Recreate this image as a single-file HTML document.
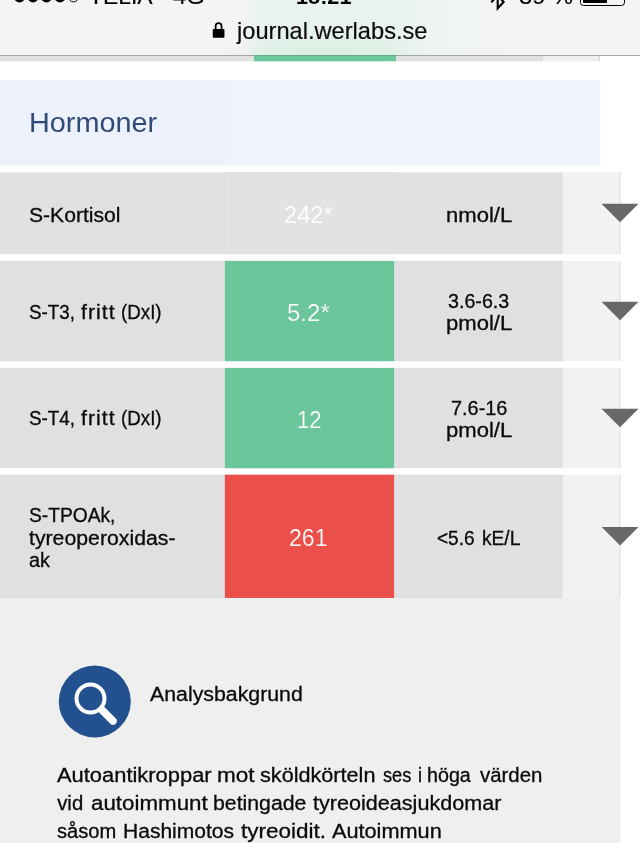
<!DOCTYPE html>
<html><head><meta charset="utf-8"><title>journal.werlabs.se</title>
<style>
html,body{margin:0;padding:0;background:#fff}
body{width:640px;height:843px;position:relative;overflow:hidden;font-family:"Liberation Sans",sans-serif}
.a{position:absolute;display:block}
#tx{position:absolute;left:0;top:0;width:640px;height:843px;will-change:transform}
.t{position:absolute;display:block;white-space:nowrap;line-height:1;transform-origin:0 0;-webkit-text-stroke:0.3px currentColor}
</style></head><body>
<!-- page content -->
<div class="a" style="left:0;top:56px;width:543px;height:5px;background:#e0e0e0"></div><div class="a" style="left:0;top:61px;width:543px;height:1px;background:#f5f5f5"></div>
<div class="a" style="left:543px;top:56px;width:57px;height:5px;background:#efefef;border-right:1px solid #d8d8d8;box-sizing:border-box"></div><div class="a" style="left:543px;top:61px;width:57px;height:1px;background:#fafafa"></div>
<div class="a" style="left:254px;top:56px;width:142px;height:5px;background:#6cc69b"></div><div class="a" style="left:254px;top:61px;width:142px;height:1px;background:#d3eee1"></div>
<div class="a" style="left:0;top:80px;width:600px;height:85px;background:#eff3fb"></div>
<div class="a" style="left:0;top:80px;width:225px;height:85px;background:#edf1fb"></div>
<svg class="a" style="left:0;top:0" width="640" height="843" viewBox="0 0 640 843">
<rect x="0" y="598" width="620.4" height="245" fill="#efefef"/>
<rect x="0" y="172.3" width="562.9" height="81.8" fill="#e0e0e0"/>
<rect x="562.9" y="172.3" width="57.5" height="81.8" fill="#f2f2f2"/>
<rect x="619.3" y="172.3" width="1.2" height="81.8" fill="#e2e2e2"/>
<rect x="225" y="172.3" width="169" height="81.8" fill="#e2e2e2"/>
<rect x="0" y="260.9" width="562.9" height="100.3" fill="#e0e0e0"/>
<rect x="562.9" y="260.9" width="57.5" height="100.3" fill="#f2f2f2"/>
<rect x="619.3" y="260.9" width="1.2" height="100.3" fill="#e2e2e2"/>
<rect x="224.9" y="260.9" width="169.2" height="100.3" fill="#6cc69b"/>
<rect x="0" y="367.9" width="562.9" height="100.3" fill="#e0e0e0"/>
<rect x="562.9" y="367.9" width="57.5" height="100.3" fill="#f2f2f2"/>
<rect x="619.3" y="367.9" width="1.2" height="100.3" fill="#e2e2e2"/>
<rect x="224.9" y="367.9" width="169.2" height="100.3" fill="#6cc69b"/>
<rect x="0" y="474.7" width="562.9" height="123.3" fill="#e0e0e0"/>
<rect x="562.9" y="474.7" width="57.5" height="123.3" fill="#f2f2f2"/>
<rect x="619.3" y="474.7" width="1.2" height="123.3" fill="#e2e2e2"/>
<rect x="224.9" y="474.7" width="169.2" height="123.3" fill="#ea4f4a"/>
<path d="M601.6 203.80 L638.5 203.80 L620.05 222.30 Z" fill="#686868"/>
<path d="M601.6 301.65 L638.5 301.65 L620.05 320.15 Z" fill="#686868"/>
<path d="M601.6 408.65 L638.5 408.65 L620.05 427.15 Z" fill="#686868"/>
<path d="M601.6 526.95 L638.5 526.95 L620.05 545.45 Z" fill="#686868"/>
</svg>
<div class="a" style="left:0;top:165px;width:600px;height:1px;background:#f7f9fd"></div>
<!-- icon -->
<svg class="a" style="left:58px;top:665px" width="74" height="74" viewBox="58 665 74 74">
<circle cx="94.8" cy="701.4" r="36" fill="#23508f"/>
<circle cx="90.5" cy="698.5" r="14" fill="none" stroke="#fff" stroke-width="4"/>
<path d="M102.5 710.5 L113 721" stroke="#fff" stroke-width="7.5" stroke-linecap="round"/>
</svg>
<!-- browser chrome -->
<div class="a" style="left:0;top:0;width:640px;height:55px;background:linear-gradient(90deg,#f4f4f4 0,#f4f4f4 244px,#e8f3ed 262px,#e9f3ed 396px,#eff4f1 440px,#f4f4f4 545px,#f4f4f4 100%)"></div>
<div class="a" style="left:215px;top:27px;width:220px;height:28px;background:radial-gradient(ellipse 108px 27px at 50% 100%,rgba(108,198,155,0.10) 0%,rgba(108,198,155,0.07) 55%,rgba(108,198,155,0) 100%)"></div>
<div class="a" style="left:0;top:55px;width:640px;height:1px;background:#a6a6a6"></div>
<div class="a" style="left:254px;top:55px;width:142px;height:1px;background:#62a988"></div>
<!-- signal dots -->
<svg class="a" style="left:10px;top:0" width="80" height="6" viewBox="10 0 80 6">
<circle cx="19.5" cy="-3.1" r="5.5"/><circle cx="33" cy="-3.1" r="5.5"/><circle cx="46.5" cy="-3.1" r="5.5"/><circle cx="60" cy="-3.1" r="5.5"/>
<circle cx="73.5" cy="-3.1" r="5" fill="none" stroke="#000" stroke-width="1"/>
</svg>
<!-- lock -->
<svg class="a" style="left:211px;top:21px" width="16" height="18" viewBox="0 0 16 18">
<rect x="1.75" y="8" width="11.7" height="8.8" rx="1" fill="#000"/>
<path d="M4.65 8.5 V5.0 a2.95 2.95 0 0 1 5.9 0 V8.5" fill="none" stroke="#000" stroke-width="1.75"/>
</svg>
<!-- bluetooth -->
<svg class="a" style="left:488px;top:-12px" width="20" height="24" viewBox="0 0 20 24">
<path d="M3.2 0.5 L15.6 13.9 L9.7 20.4 V-6 L15.6 1 L3.2 14.4" fill="none" stroke="#000" stroke-width="2.1" stroke-linejoin="miter"/>
</svg>
<!-- battery -->
<div class="a" style="left:580px;top:-13.4px;width:44.5px;height:19px;border:1.5px solid #000;border-radius:3.5px;box-sizing:border-box"></div>
<div class="a" style="left:582.6px;top:-10.4px;width:24.4px;height:13.8px;background:#000;border-radius:1px"></div>
<div class="a" style="left:624.5px;top:-8px;width:2.5px;height:7px;background:#000;border-radius:0 2px 2px 0"></div>
<div id="tx">
<span class="t" style="left:88.60px;top:-12.95px;font-size:21.50px;color:#000;transform:scaleX(1.0653);-webkit-text-stroke:0.15px #000;">TELIA</span>
<span class="t" style="left:173.00px;top:-12.95px;font-size:21.50px;color:#000;transform:scaleX(1.1052);-webkit-text-stroke:0.15px #000;">4G</span>
<span class="t" style="left:296.45px;top:-13.80px;font-size:22.50px;color:#000;transform:scaleX(0.9643);font-weight:bold;-webkit-text-stroke:0;">18:21</span>
<span class="t" style="left:518.79px;top:-12.95px;font-size:21.50px;color:#000;transform:scaleX(1.1022);-webkit-text-stroke:0.15px #000;">39 %</span>
<span class="t" style="left:236.81px;top:19.61px;font-size:23.20px;color:#0c0c0c;transform:scaleX(1.0192);-webkit-text-stroke:0.2px #0c0c0c;">journal.werlabs.se</span>
<span class="t" style="left:29.08px;top:108.38px;font-size:28.20px;color:#2f4b77;transform:scaleX(1.0225);-webkit-text-stroke:0;">Hormoner</span>
<span class="t" style="left:29.20px;top:205.02px;font-size:20.35px;color:#0a0a0a;transform:scaleX(1.0374);">S-Kortisol</span>
<span class="t" style="left:284.30px;top:204.30px;font-size:23.57px;color:#fff;transform:scaleX(1.0041);-webkit-text-stroke:0.22px #e3e3e3;">242*</span>
<span class="t" style="left:446.25px;top:205.02px;font-size:20.35px;color:#0a0a0a;transform:scaleX(1.0843);">nmol/L</span>
<span class="t" style="left:29.40px;top:302.02px;font-size:20.35px;color:#0a0a0a;transform:scaleX(0.9252);">S-T3,</span>
<span class="t" style="left:81.00px;top:302.02px;font-size:20.35px;color:#0a0a0a;transform:scaleX(1.0449);letter-spacing:1.0px;">fritt</span>
<span class="t" style="left:120.62px;top:302.02px;font-size:20.35px;color:#0a0a0a;transform:scaleX(0.9213);">(DxI)</span>
<span class="t" style="left:287.30px;top:302.30px;font-size:23.57px;color:#fff;transform:scaleX(1.0191);-webkit-text-stroke:0.22px #6cc69b;">5.2*</span>
<span class="t" style="left:448.30px;top:291.02px;font-size:20.35px;color:#0a0a0a;transform:scaleX(0.9669);">3.6-6.3</span>
<span class="t" style="left:446.25px;top:313.02px;font-size:20.35px;color:#0a0a0a;transform:scaleX(1.0843);">pmol/L</span>
<span class="t" style="left:29.40px;top:408.02px;font-size:20.35px;color:#0a0a0a;transform:scaleX(0.9252);">S-T4,</span>
<span class="t" style="left:81.00px;top:408.02px;font-size:20.35px;color:#0a0a0a;transform:scaleX(1.0449);letter-spacing:1.0px;">fritt</span>
<span class="t" style="left:120.62px;top:408.02px;font-size:20.35px;color:#0a0a0a;transform:scaleX(0.9213);">(DxI)</span>
<span class="t" style="left:297.30px;top:409.30px;font-size:23.57px;color:#fff;transform:scaleX(0.9332);-webkit-text-stroke:0.22px #6cc69b;">12</span>
<span class="t" style="left:451.25px;top:398.02px;font-size:20.35px;color:#0a0a0a;transform:scaleX(0.9783);">7.6-16</span>
<span class="t" style="left:446.25px;top:420.02px;font-size:20.35px;color:#0a0a0a;transform:scaleX(1.0843);">pmol/L</span>
<span class="t" style="left:29.20px;top:505.02px;font-size:20.35px;color:#0a0a0a;transform:scaleX(0.9443);">S-TPOAk,</span>
<span class="t" style="left:29.00px;top:528.02px;font-size:20.35px;color:#0a0a0a;transform:scaleX(1.0449);">tyreoperoxidas-</span>
<span class="t" style="left:29.20px;top:550.02px;font-size:20.35px;color:#0a0a0a;transform:scaleX(0.9767);">ak</span>
<span class="t" style="left:289.45px;top:527.30px;font-size:23.57px;color:#fff;transform:scaleX(0.9809);-webkit-text-stroke:0.22px #ea4f4a;">261</span>
<span class="t" style="left:436.60px;top:528.02px;font-size:20.35px;color:#0a0a0a;transform:scaleX(0.9353);">&lt;5.6</span>
<span class="t" style="left:482.30px;top:528.02px;font-size:20.35px;color:#0a0a0a;transform:scaleX(0.9410);">kE/L</span>
<span class="t" style="left:150.40px;top:684.02px;font-size:20.35px;color:#0a0a0a;transform:scaleX(1.0474);">Analysbakgrund</span>
<span class="t" style="left:56.50px;top:765.02px;font-size:20.35px;color:#0a0a0a;transform:scaleX(1.0765);">Autoantikroppar</span>
<span class="t" style="left:217.30px;top:765.02px;font-size:20.35px;color:#0a0a0a;transform:scaleX(1.1062);">mot</span>
<span class="t" style="left:260.00px;top:765.02px;font-size:20.35px;color:#0a0a0a;transform:scaleX(1.0635);">sköldkörteln</span>
<span class="t" style="left:382.80px;top:765.02px;font-size:20.35px;color:#0a0a0a;transform:scaleX(0.8959);">ses</span>
<span class="t" style="left:417.50px;top:765.02px;font-size:20.35px;color:#0a0a0a;transform:scaleX(0.8889);">i</span>
<span class="t" style="left:427.45px;top:765.02px;font-size:20.35px;color:#0a0a0a;transform:scaleX(0.9680);">höga</span>
<span class="t" style="left:479.80px;top:765.02px;font-size:20.35px;color:#0a0a0a;transform:scaleX(1.0032);">värden</span>
<span class="t" style="left:57.20px;top:793.02px;font-size:20.35px;color:#0a0a0a;transform:scaleX(1.0000);">vid</span>
<span class="t" style="left:90.50px;top:793.02px;font-size:20.35px;color:#0a0a0a;transform:scaleX(1.0978);">autoimmunt</span>
<span class="t" style="left:213.30px;top:793.02px;font-size:20.35px;color:#0a0a0a;transform:scaleX(1.0447);">betingade</span>
<span class="t" style="left:312.80px;top:793.02px;font-size:20.35px;color:#0a0a0a;transform:scaleX(1.0614);">tyreoideasjukdomar</span>
<span class="t" style="left:57.20px;top:821.02px;font-size:20.35px;color:#0a0a0a;transform:scaleX(0.9900);">såsom</span>
<span class="t" style="left:123.45px;top:821.02px;font-size:20.35px;color:#0a0a0a;transform:scaleX(1.0340);">Hashimotos</span>
<span class="t" style="left:240.50px;top:821.02px;font-size:20.35px;color:#0a0a0a;transform:scaleX(1.1060);">tyreoidit.</span>
<span class="t" style="left:331.50px;top:821.02px;font-size:20.35px;color:#0a0a0a;transform:scaleX(1.0661);">Autoimmun</span>
</div>
</body></html>
